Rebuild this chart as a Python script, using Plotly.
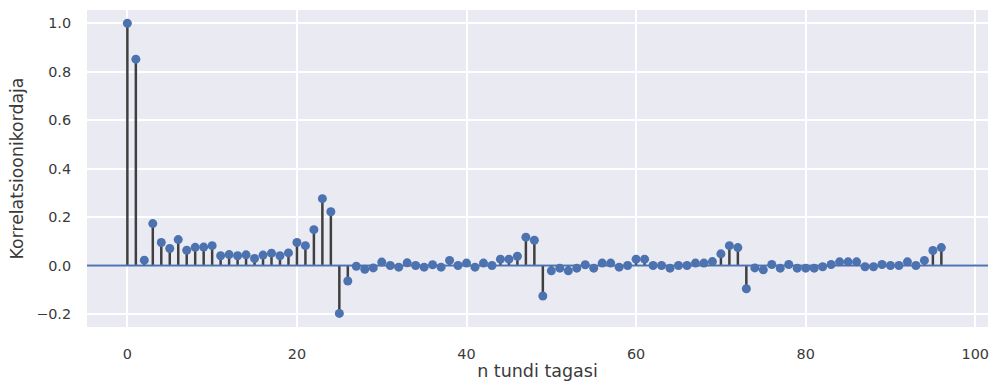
import plotly.graph_objects as go

# Autocorrelation by lag (hours back)
lags = list(range(97))
acf = [
    1.000, 0.852, 0.022, 0.173, 0.095, 0.070, 0.107, 0.063, 0.075, 0.076,
    0.082, 0.040, 0.045, 0.040, 0.044, 0.029, 0.043, 0.051, 0.040, 0.052,
    0.095, 0.082, 0.148, 0.276, 0.222, -0.198, -0.064, -0.003, -0.016, -0.010,
    0.014, 0.000, -0.007, 0.011, 0.000, -0.007, 0.003, -0.007, 0.021, 0.000,
    0.010, -0.007, 0.010, 0.000, 0.026, 0.026, 0.038, 0.117, 0.104, -0.126,
    -0.022, -0.011, -0.022, -0.011, 0.003, -0.011, 0.010, 0.010, -0.007, 0.000,
    0.026, 0.026, 0.000, 0.000, -0.011, 0.000, 0.000, 0.010, 0.010, 0.016,
    0.048, 0.082, 0.074, -0.096, -0.010, -0.018, 0.004, -0.011, 0.004, -0.011,
    -0.011, -0.011, -0.005, 0.004, 0.015, 0.015, 0.015, -0.005, -0.005, 0.004,
    0.000, 0.000, 0.015, 0.000, 0.021, 0.062, 0.074,
]

x_ticks = [0, 20, 40, 60, 80, 100]
y_ticks = [-0.2, 0.0, 0.2, 0.4, 0.6, 0.8, 1.0]

X_RANGE = [-4.76, 101.5]
Y_RANGE = [-0.254, 1.055]

BLUE = "#4C72B0"
STEM = "#404040"
FONT = "DejaVu Sans"

# vertical stems from zero to each coefficient
stem_x, stem_y = [], []
for lag, v in zip(lags, acf):
    stem_x += [lag, lag, None]
    stem_y += [0, v, None]

fig = go.Figure()
fig.add_trace(go.Scatter(
    x=stem_x, y=stem_y, mode="lines",
    line=dict(color=STEM, width=2.5), hoverinfo="skip", showlegend=False,
))
# zero reference line across the full axes width
fig.add_trace(go.Scatter(
    x=X_RANGE, y=[0, 0], mode="lines",
    line=dict(color=BLUE, width=2), hoverinfo="skip", showlegend=False,
))
fig.add_trace(go.Scatter(
    x=lags, y=acf, mode="markers",
    marker=dict(color=BLUE, size=9, line=dict(width=0)),
    showlegend=False,
))

fig.update_layout(
    width=993, height=381,
    margin=dict(l=87, r=5, t=10, b=54),
    paper_bgcolor="white",
    plot_bgcolor="#EAEAF2",
    font=dict(family=FONT, size=14.4, color="#3a3a3a"),
    xaxis=dict(
        range=X_RANGE, tickvals=x_ticks, ticktext=[str(t) for t in x_ticks],
        showgrid=True, gridcolor="white", gridwidth=1.5, zeroline=False,
        ticks="outside", ticklen=14, tickcolor="rgba(0,0,0,0)",
        showline=False, automargin=False, ticklabeloverflow="allow",
        title=dict(text="n tundi tagasi", font=dict(size=17.5, color="#3a3a3a"), standoff=4),
    ),
    yaxis=dict(
        range=Y_RANGE, tickvals=y_ticks, ticktext=["\u22120.2", "0.0", "0.2", "0.4", "0.6", "0.8", "1.0"],
        showgrid=True, gridcolor="white", gridwidth=1.5, zeroline=False,
        ticks="outside", ticklen=12, tickcolor="rgba(0,0,0,0)",
        showline=False, automargin=False,
        title=dict(text="Korrelatsioonikordaja", font=dict(size=17.3, color="#3a3a3a"), standoff=8),
    ),
)

fig.write_html("out.html")
